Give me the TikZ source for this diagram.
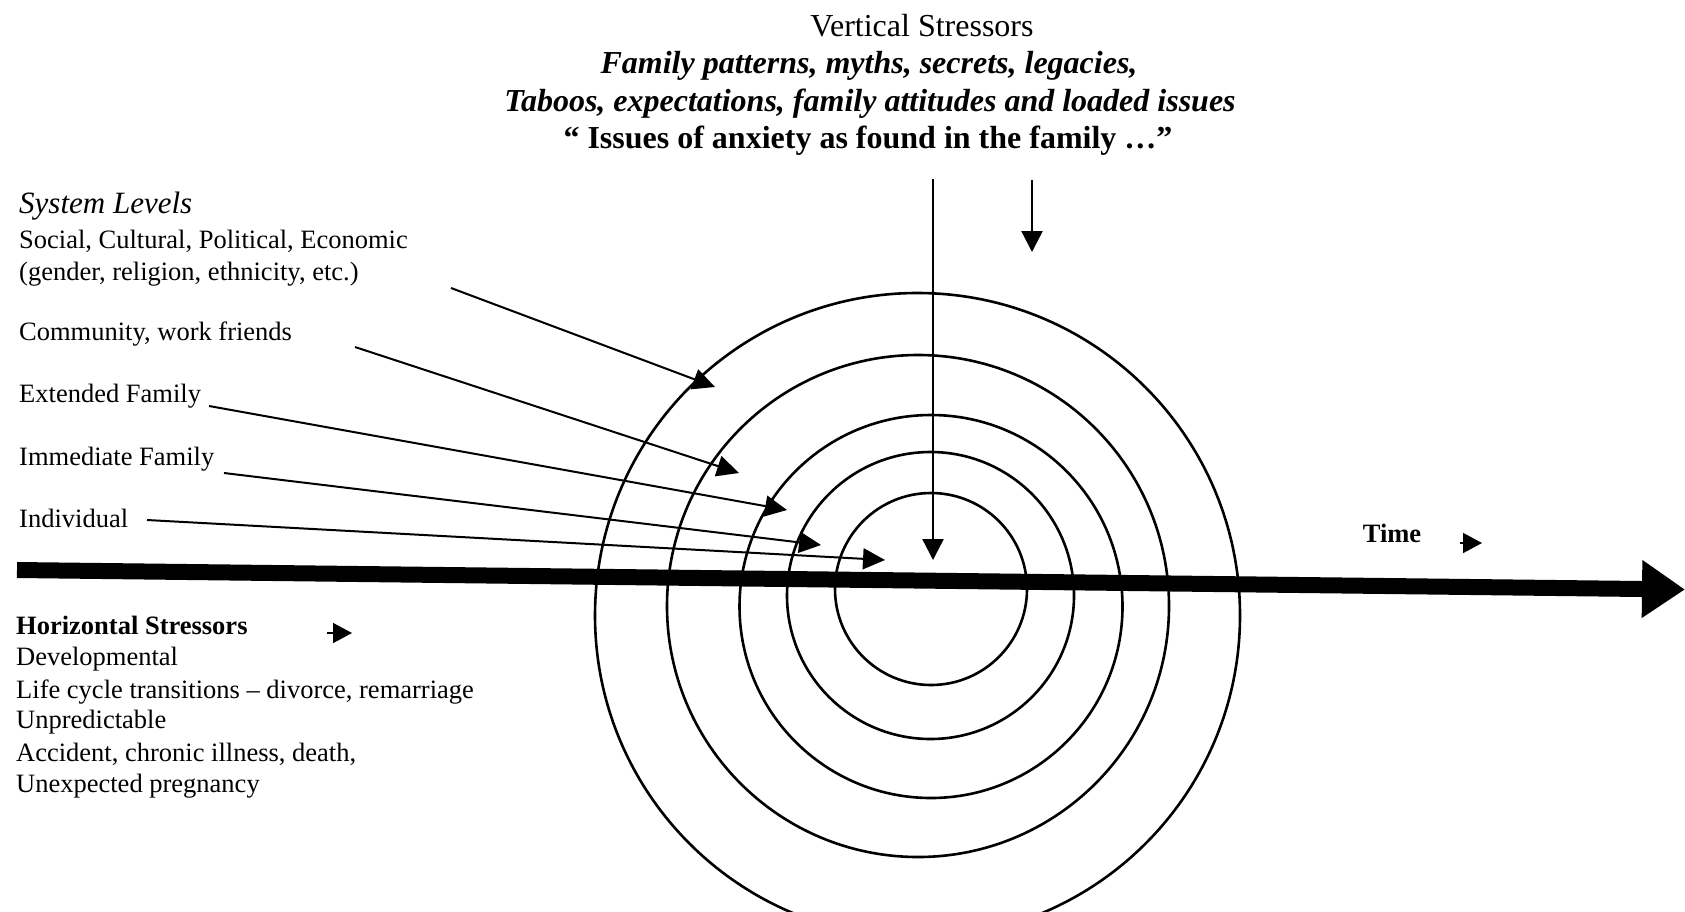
\documentclass[tikz,border=0pt]{standalone}
\usepackage{fontspec}
\setmainfont{Liberation Serif}
\usetikzlibrary{arrows.meta}
\begin{document}
\begin{tikzpicture}[x=1pt,y=-1pt,
  txt/.style={inner sep=0pt, anchor=west, font=\fontsize{26.5}{32}\selectfont, text height=0.7em, text depth=0.22em},
  ttl/.style={inner sep=0pt, font=\fontsize{32}{37}\selectfont, text height=0.7em, text depth=0.22em},
  ring/.style={draw, circle, line width=2.6pt, inner sep=0pt},
  lvl/.style={line width=2pt, -{Triangle[length=22pt,width=21pt]}},
  vert/.style={line width=2.4pt, -{Triangle[length=21pt,width=21pt]}},
  small/.style={line width=1.5pt, -{Triangle[length=19pt,width=20pt]}},
  timeline/.style={line width=16pt, -{Triangle[length=43pt,width=55pt]}}
]
\useasboundingbox (0,0) rectangle (1685,911);
\fill[white] (0,0) rectangle (1685,911);

% title block
\node[ttl] (vs) at (922,34) {Vertical Stressors};
\node[ttl, font=\fontsize{32}{37}\selectfont\bfseries\itshape] (fp) at (869,71) {Family patterns, myths, secrets, legacies,};
\node[ttl, font=\fontsize{32}{37}\selectfont\bfseries\itshape] (tb) at (870,109) {Taboos, expectations, family attitudes and loaded issues};
\node[ttl, font=\fontsize{32}{37}\selectfont\bfseries] (ia) at (868,146) {“ Issues of anxiety as found in the family …”};

% system levels
\node[txt, font=\fontsize{31}{34}\selectfont\itshape] (sl) at (19,211) {System Levels};
\node[txt] (soc) at (19,246) {Social, Cultural, Political, Economic};
\node[txt] (gen) at (19,278) {(gender, religion, ethnicity, etc.)};
\node[txt] (com) at (19,338) {Community, work friends};
\node[txt] (ext) at (19,400) {Extended Family};
\node[txt] (imm) at (19,463) {Immediate Family};
\node[txt] (ind) at (19,525) {Individual};

% horizontal stressors
\node[txt, font=\fontsize{26.5}{32}\selectfont\bfseries] (hs) at (16,632) {Horizontal Stressors};
\node[txt] (dev) at (16,663) {Developmental};
\node[txt] (lct) at (16,696) {Life cycle transitions – divorce, remarriage};
\node[txt] (unp) at (16,726) {Unpredictable};
\node[txt] (acc) at (16,759) {Accident, chronic illness, death,};
\node[txt] (une) at (16,790) {Unexpected pregnancy};

\node[txt, anchor=center, font=\fontsize{26.5}{32}\selectfont\bfseries] (time) at (1392,540) {Time};

% rings
\node[ring, minimum size=645pt] (r1) at (917.5,615.5) {};
\node[ring, minimum size=502pt] (r2) at (918,606) {};
\node[ring, minimum size=383pt] (r3) at (931,606.5) {};
\node[ring, minimum size=287pt] (r4) at (930.5,595.5) {};
\node[ring, minimum size=192pt] (r5) at (931,589) {};

% time line
\coordinate (t0) at (17,570);
\coordinate (t1) at (1685,589.5);
\draw[timeline] (t0) -- (t1);

% level arrows
\coordinate (s1) at (451,288);  \coordinate (e1) at (715,387);
\coordinate (s2) at (355,347);  \coordinate (e2) at (739,473);
\coordinate (s3) at (209,406);  \coordinate (e3) at (787,510);
\coordinate (s4) at (224,473);  \coordinate (e4) at (821,545);
\coordinate (s5) at (147,520);  \coordinate (e5) at (885,560);
\draw[lvl] (s1) -- (e1);
\draw[lvl] (s2) -- (e2);
\draw[lvl] (s3) -- (e3);
\draw[lvl] (s4) -- (e4);
\draw[lvl] (s5) -- (e5);

% vertical arrows
\coordinate (v1s) at (933,179); \coordinate (v1e) at (933,560);
\coordinate (v2s) at (1032,180); \coordinate (v2e) at (1032,252);
\draw[vert] (v1s) -- (v1e);
\draw[vert] (v2s) -- (v2e);

% small arrows
\coordinate (ta0) at (1460,543); \coordinate (ta1) at (1482,543);
\coordinate (ha0) at (327,633); \coordinate (ha1) at (352,633);
\draw[small] (ta0) -- (ta1);
\draw[small] (ha0) -- (ha1);
\end{tikzpicture}
\end{document}
